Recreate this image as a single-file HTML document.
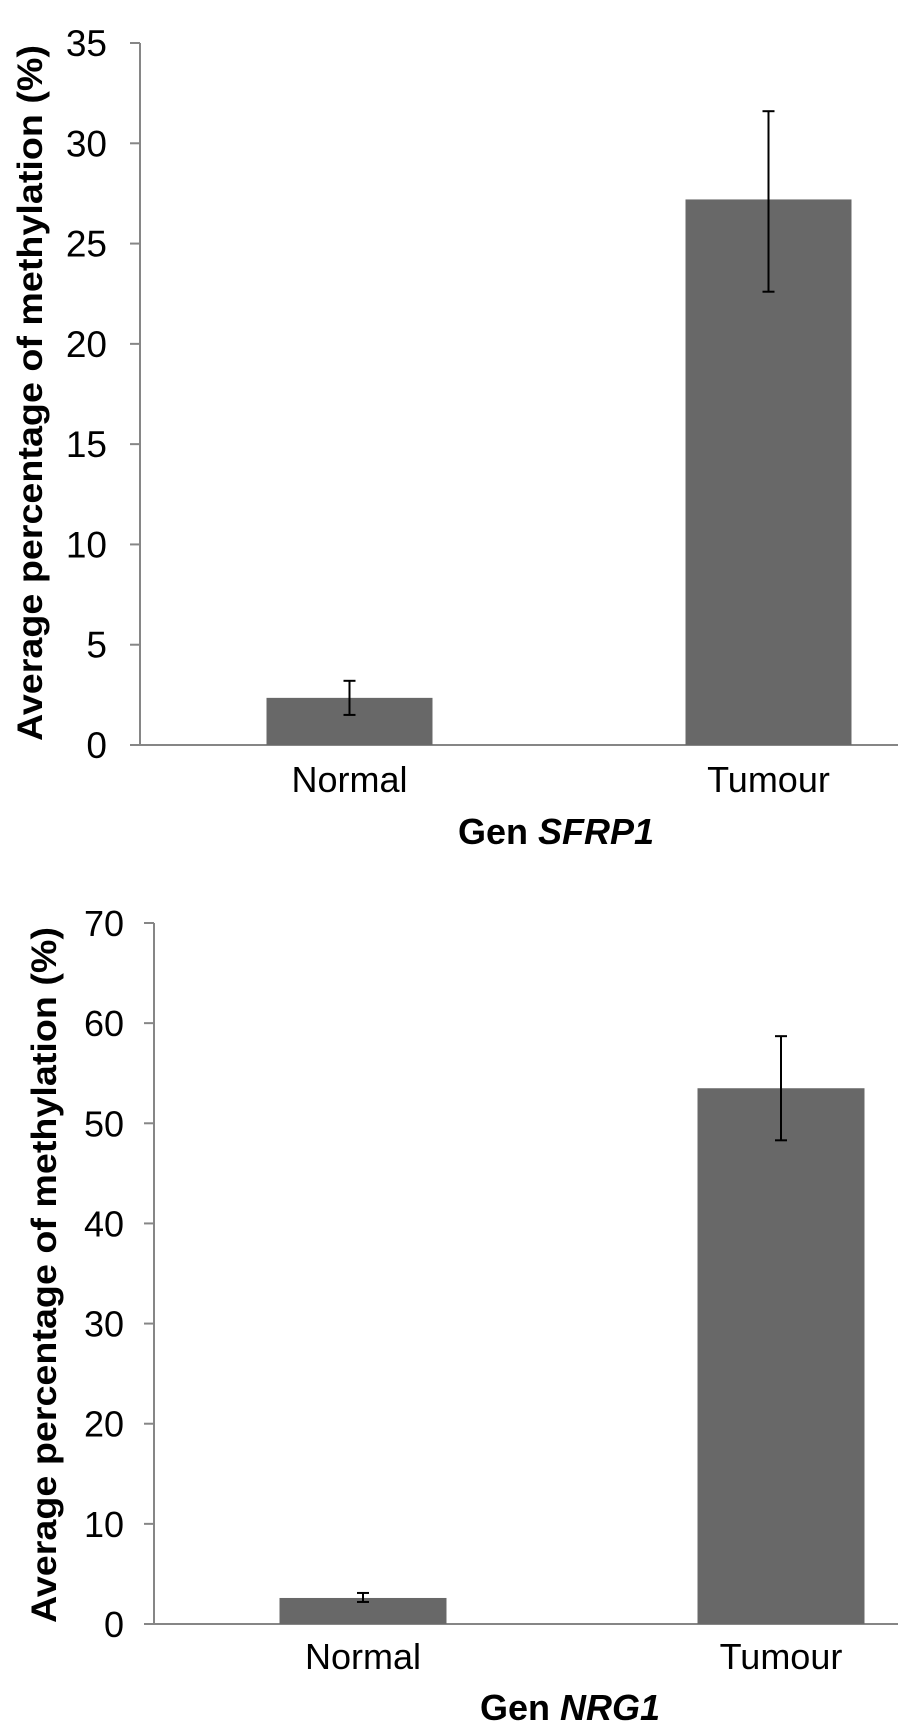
<!DOCTYPE html>
<html><head><meta charset="utf-8"><style>
html,body{margin:0;padding:0;background:#fff;}
svg{display:block;font-family:"Liberation Sans",Arial,sans-serif;}
</style></head><body>
<svg id="chart" width="898" height="1728" viewBox="0 0 898 1728" xmlns="http://www.w3.org/2000/svg"></svg>
<script>
const categories = ["Normal", "Tumour"];
const sfrp1Values = [2.35, 27.2];
const sfrp1ErrLow = [1.5, 22.6];
const sfrp1ErrHigh = [3.2, 31.6];
const sfrp1Ticks = [0, 5, 10, 15, 20, 25, 30, 35];
const nrg1Values = [2.6, 53.5];
const nrg1ErrLow = [2.2, 48.3];
const nrg1ErrHigh = [3.1, 58.7];
const nrg1Ticks = [0, 10, 20, 30, 40, 50, 60, 70];

const NS = "http://www.w3.org/2000/svg";
const svg = document.getElementById("chart");
function mk(tag, attrs, parent) {
  const e = document.createElementNS(NS, tag);
  for (const k in attrs) e.setAttribute(k, attrs[k]);
  (parent || svg).appendChild(e);
  return e;
}

function drawChart(cfg) {
  const g = mk("g", {});
  
  
  const yMax = cfg.ticks[cfg.ticks.length - 1];
  const y = v => cfg.y0 - (v / yMax) * (cfg.y0 - cfg.yTop);
  const bandW = (cfg.xBandEnd - cfg.x0) / categories.length;
  const x = i => cfg.x0 + bandW * (i + 0.5);
  const barW = cfg.barW;

  const ya = mk("line", {x1: cfg.x0, y1: cfg.yTop, x2: cfg.x0, y2: cfg.y0, stroke: "#868686", "stroke-width": 2}, g);
  
  
  const xa = mk("line", {x1: cfg.x0 - 10, y1: cfg.y0, x2: 898, y2: cfg.y0, stroke: "#868686", "stroke-width": 2}, g);
  
  

  cfg.ticks.forEach(t => {
    const tk = mk("line", {x1: cfg.x0 - 10, y1: y(t), x2: cfg.x0, y2: y(t), stroke: "#868686", "stroke-width": 2}, g);
    
    
    const tl = mk("text", {x: cfg.tickRight, y: y(t) + 13, "text-anchor": "end", "font-size": cfg.tickFont, fill: "#000"}, g);
    tl.textContent = t;
    
    
  });

  categories.forEach((c, i) => {
    const b = mk("rect", {x: x(i) - barW / 2, y: y(cfg.values[i]), width: barW, height: cfg.y0 - y(cfg.values[i]), fill: "#686868"}, g);
    
    
    const eg = mk("g", {stroke: "#000", "stroke-width": 2}, g);
    
    
    mk("line", {x1: x(i), y1: y(cfg.errHigh[i]), x2: x(i), y2: y(cfg.errLow[i])}, eg);
    mk("line", {x1: x(i) - 6, y1: y(cfg.errHigh[i]), x2: x(i) + 6, y2: y(cfg.errHigh[i])}, eg);
    mk("line", {x1: x(i) - 6, y1: y(cfg.errLow[i]), x2: x(i) + 6, y2: y(cfg.errLow[i])}, eg);
    const cl = mk("text", {x: x(i), y: cfg.catBase, "text-anchor": "middle", "font-size": 36, fill: "#000"}, g);
    cl.textContent = c;
    
    
  });

  const xt = mk("text", {x: cfg.xTitleX, y: cfg.xTitleY, "text-anchor": "middle", "font-size": 36, "font-weight": "bold", fill: "#000"}, g);
  
  
  xt.appendChild(document.createTextNode("Gen "));
  const it = mk("tspan", {"font-style": "italic"}, xt);
  it.textContent = cfg.gene;

  const yt = mk("text", {x: 0, y: 0, "text-anchor": "middle", "font-size": 35, "font-weight": "bold", fill: "#000",
    textLength: 696, lengthAdjust: "spacingAndGlyphs",
    transform: "translate(" + cfg.yTitleX + "," + cfg.yTitleY + ") rotate(-90)"}, g);
  yt.textContent = "Average percentage of methylation (%)";
  
  
}

drawChart({name: "chart-sfrp1", gene: "SFRP1", values: sfrp1Values, errLow: sfrp1ErrLow, errHigh: sfrp1ErrHigh, ticks: sfrp1Ticks,
  x0: 140, xBandEnd: 978, y0: 745, yTop: 43, barW: 166, tickFont: 37, tickRight: 107, catBase: 792, xTitleX: 556, xTitleY: 844, yTitleX: 42, yTitleY: 393});
drawChart({name: "chart-nrg1", gene: "NRG1", values: nrg1Values, errLow: nrg1ErrLow, errHigh: nrg1ErrHigh, ticks: nrg1Ticks,
  x0: 154, xBandEnd: 990, y0: 1624, yTop: 923, barW: 167, tickFont: 36, tickRight: 124, catBase: 1669, xTitleX: 570, xTitleY: 1720, yTitleX: 56, yTitleY: 1275});
</script>
</body></html>
